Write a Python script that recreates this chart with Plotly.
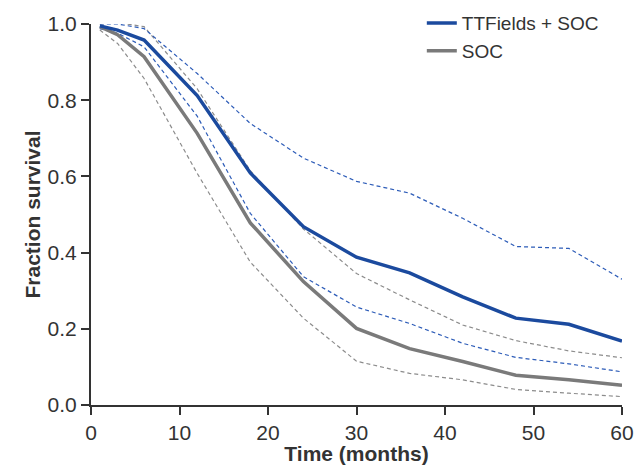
import plotly.graph_objects as go

# Survival estimates (fraction surviving) by month
months = [1, 3, 6, 12, 18, 24, 30, 36, 42, 48, 54, 60]

ttf_soc = [0.995, 0.984, 0.958, 0.812, 0.609, 0.468, 0.388, 0.347, 0.284, 0.228, 0.212, 0.168]
ttf_soc_upper = [1.0, 1.0, 0.988, 0.87, 0.739, 0.648, 0.587, 0.556, 0.49, 0.416, 0.411, 0.33]
ttf_soc_lower = [0.988, 0.976, 0.94, 0.758, 0.503, 0.337, 0.257, 0.214, 0.162, 0.125, 0.108, 0.087]

soc = [0.993, 0.972, 0.914, 0.713, 0.478, 0.324, 0.201, 0.148, 0.114, 0.078, 0.066, 0.052]
soc_upper = [1.0, 1.004, 0.993, 0.83, 0.615, 0.462, 0.345, 0.276, 0.21, 0.169, 0.142, 0.124]
soc_lower = [0.984, 0.949, 0.857, 0.608, 0.375, 0.228, 0.115, 0.083, 0.066, 0.041, 0.031, 0.022]

x_ticks = [0, 10, 20, 30, 40, 50, 60]
y_ticks = [0.0, 0.2, 0.4, 0.6, 0.8, 1.0]

BLUE = "#1b4a9e"
BLUE_DASH = "#2d5cb8"
GREY = "#7a7a7a"
GREY_DASH = "#8c8c8c"
AXIS = "#333333"
FONT = "Liberation Sans, Arial, sans-serif"

fig = go.Figure()

# Confidence bounds (thin dashed)
for ys, col in [(soc_upper, GREY_DASH), (soc_lower, GREY_DASH),
                (ttf_soc_upper, BLUE_DASH), (ttf_soc_lower, BLUE_DASH)]:
    fig.add_trace(go.Scatter(
        x=months, y=ys, mode="lines", showlegend=False, hoverinfo="skip",
        line=dict(color=col, width=1.2, dash="4px,3px"),
    ))

# Survival curves
fig.add_trace(go.Scatter(
    x=months, y=soc, mode="lines", name="SOC",
    line=dict(color=GREY, width=3.5),
))
fig.add_trace(go.Scatter(
    x=months, y=ttf_soc, mode="lines", name="TTFields + SOC",
    line=dict(color=BLUE, width=3.5),
))

fig.update_layout(
    width=644, height=465,
    margin=dict(l=91, r=22, t=24, b=60, autoexpand=False),
    paper_bgcolor="white", plot_bgcolor="white",
    font=dict(family=FONT, color=AXIS),
    legend=dict(
        x=0.623, y=1.052, xanchor="left", yanchor="top",
        traceorder="reversed",
        font=dict(size=19, color="#333333", family=FONT),
        bgcolor="rgba(0,0,0,0)", itemwidth=30,
    ),
    xaxis=dict(
        range=[0, 60], tickvals=x_ticks, ticktext=[str(v) for v in x_ticks],
        showgrid=False, zeroline=False, automargin=False,
        showline=True, linecolor=AXIS, linewidth=2,
        ticks="outside", ticklen=8, tickwidth=2, tickcolor=AXIS,
        tickfont=dict(size=21, color=AXIS, family=FONT),
        title=dict(text="<b>Time (months)</b>", font=dict(size=21, color=AXIS, family=FONT), standoff=3),
    ),
    yaxis=dict(
        range=[0, 1.0], tickvals=y_ticks, ticktext=[f"{v:.1f}" for v in y_ticks],
        showgrid=False, zeroline=False, automargin=False,
        showline=True, linecolor=AXIS, linewidth=2,
        ticks="outside", ticklen=8, tickwidth=2, tickcolor=AXIS,
        tickfont=dict(size=21, color=AXIS, family=FONT),
        title=dict(text="<b>Fraction survival</b>", font=dict(size=21, color=AXIS, family=FONT), standoff=1),
    ),
)

fig.update_traces(cliponaxis=False)
fig.write_html("out.html")
